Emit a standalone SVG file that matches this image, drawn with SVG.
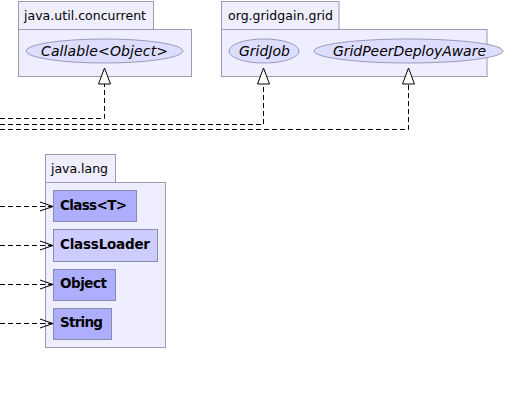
<svg xmlns="http://www.w3.org/2000/svg" width="512" height="401" viewBox="0 0 512 401">
<style>
.pkg{fill:#eeeeff;stroke:#9a9ab0;stroke-width:1}
.ell{fill:#ddddff;stroke:#9a9ab8;stroke-width:1}
.cls{fill:#aeaeff;stroke:#8a8ab0;stroke-width:1}
.cls2{fill:#ccccff;stroke:#8a8ab0;stroke-width:1}
.plbl{font-family:"DejaVu Sans",sans-serif;font-size:12.5px;fill:#000}
.ilbl{font-family:"DejaVu Sans",sans-serif;font-size:14px;font-style:italic;fill:#000;text-anchor:middle}
.blbl{font-family:"DejaVu Sans",sans-serif;font-size:13.5px;font-weight:bold;fill:#000}
.dash{fill:none;stroke:#000;stroke-width:1;stroke-dasharray:5,3}
.tri{fill:#fff;stroke:#000;stroke-width:1}
.open{fill:none;stroke:#000;stroke-width:1}
</style>
<rect width="512" height="401" fill="#fff"/>
<g id="pkg-java-util-concurrent">
<rect class="pkg" x="18.5" y="1.5" width="135" height="28"/>
<rect class="pkg" x="18.5" y="29.5" width="173" height="47"/>
<text class="plbl" x="24" y="20" textLength="122">java.util.concurrent</text>
</g>
<g id="Callable">
<ellipse class="ell" cx="104.5" cy="51" rx="78.5" ry="12"/>
<text class="ilbl" x="104.5" y="56" textLength="127">Callable&lt;Object&gt;</text>
</g>
<g id="pkg-org-gridgain-grid">
<rect class="pkg" x="221.5" y="1.5" width="117.5" height="28"/>
<rect class="pkg" x="221.5" y="29.5" width="265.5" height="47"/>
<text class="plbl" x="228" y="20" textLength="105">org.gridgain.grid</text>
</g>
<g id="GridJob">
<ellipse class="ell" cx="264" cy="51" rx="35" ry="12"/>
<text class="ilbl" x="264.5" y="56" textLength="51">GridJob</text>
</g>
<g id="GridPeerDeployAware">
<ellipse class="ell" cx="408.5" cy="51" rx="94.5" ry="12"/>
<text class="ilbl" x="409.5" y="56" textLength="153">GridPeerDeployAware</text>
</g>
<g id="pkg-java-lang">
<rect class="pkg" x="45.5" y="154.5" width="70" height="28"/>
<rect class="pkg" x="45.5" y="182.5" width="120" height="165"/>
<text class="plbl" x="51" y="173" textLength="57">java.lang</text>
</g>
<g id="Class">
<rect class="cls" x="53.5" y="190.5" width="83" height="31"/>
<text class="blbl" x="60" y="209.5" textLength="67">Class&lt;T&gt;</text>
</g>
<g id="ClassLoader">
<rect class="cls2" x="53.5" y="229.5" width="104" height="32"/>
<text class="blbl" x="60" y="248.5" textLength="90">ClassLoader</text>
</g>
<g id="Object">
<rect class="cls" x="53.5" y="269.5" width="62" height="31"/>
<text class="blbl" x="60" y="288" textLength="47">Object</text>
</g>
<g id="String">
<rect class="cls" x="53.5" y="308.5" width="58" height="31"/>
<text class="blbl" x="60" y="327" textLength="43">String</text>
</g>
<g id="connectors">
<path class="dash" d="M0,118.5 H104.5 V84"/>
<polygon class="tri" points="104.5,68 98.5,84 110.5,84"/>
<path class="dash" d="M0,124.5 H263.5 V84"/>
<polygon class="tri" points="263.5,68 257.5,84 269.5,84"/>
<path class="dash" d="M0,129.5 H408.5 V84"/>
<polygon class="tri" points="408.5,68 402.5,84 414.5,84"/>
<path class="dash" d="M0,206.5 H52"/>
<path class="open" d="M40,202 L53,206.5 L40,211"/>
<path class="dash" d="M0,245.5 H52"/>
<path class="open" d="M40,241 L53,245.5 L40,250"/>
<path class="dash" d="M0,284.5 H52"/>
<path class="open" d="M40,280 L53,284.5 L40,289"/>
<path class="dash" d="M0,323.5 H52"/>
<path class="open" d="M40,319 L53,323.5 L40,328"/>
</g>
</svg>
